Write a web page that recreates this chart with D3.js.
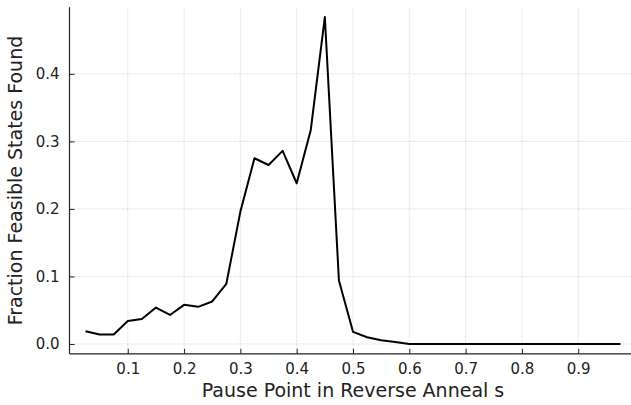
<!DOCTYPE html>
<html>
<head>
<meta charset="utf-8">
<script src="https://cdn.jsdelivr.net/npm/d3@7"></script>
<style>
  html, body { margin: 0; padding: 0; background: #fff; }
  svg { display: block; font-family: "DejaVu Sans", sans-serif; }
</style>
</head>
<body>
<svg id="chart" width="631" height="405"></svg>
<script>
// Pause points of the reverse anneal
const pausePoints = [
  0.025, 0.05, 0.075, 0.1, 0.125, 0.15, 0.175, 0.2, 0.225, 0.25,
  0.275, 0.3, 0.325, 0.35, 0.375, 0.4, 0.425, 0.45, 0.475, 0.5,
  0.525, 0.55, 0.575, 0.6, 0.625, 0.65, 0.675, 0.7, 0.725, 0.75,
  0.775, 0.8, 0.825, 0.85, 0.875, 0.9, 0.925, 0.95, 0.975
];
// Fraction of feasible states found at each pause point
const feasibleFraction = [
  0.019, 0.014, 0.014, 0.034, 0.037, 0.054, 0.043, 0.058, 0.055, 0.063,
  0.089, 0.196, 0.275, 0.265, 0.286, 0.238, 0.317, 0.484, 0.094, 0.018,
  0.010, 0.0055, 0.003, 0, 0, 0, 0, 0, 0, 0,
  0, 0, 0, 0, 0, 0, 0, 0, 0
];
const xTicks = [0.1, 0.2, 0.3, 0.4, 0.5, 0.6, 0.7, 0.8, 0.9];
const yTicks = [0.0, 0.1, 0.2, 0.3, 0.4];
const xLabel = "Pause Point in Reverse Anneal s";
const yLabel = "Fraction Feasible States Found";

const svg = d3.select("#chart");
const plotL = 69.5, plotR = 636.5, plotT = 7.3, plotB = 353.8;

// pad each axis by 3% of the data span on both ends
function padded(ext) {
  const p = (ext[1] - ext[0]) * 0.03;
  return [ext[0] - p, ext[1] + p];
}
const x = d3.scaleLinear().domain(padded(d3.extent(pausePoints))).range([plotL, plotR]);
const y = d3.scaleLinear().domain(padded(d3.extent(feasibleFraction))).range([plotB, plotT]);

// grid
const grid = svg.append("g").attr("stroke", "#000").attr("stroke-opacity", 0.1)
  .attr("stroke-width", 1).attr("stroke-dasharray", "3,1");
grid.selectAll(".gx").data(xTicks).join("line")
  .attr("x1", d => x(d)).attr("x2", d => x(d)).attr("y1", plotT).attr("y2", plotB);
grid.selectAll(".gy").data(yTicks).join("line")
  .attr("x1", plotL).attr("x2", plotR).attr("y1", d => y(d)).attr("y2", d => y(d));

// axes with inward ticks
const fmt = d3.format(".1f");
const gx = svg.append("g").attr("transform", `translate(0,${plotB})`)
  .call(d3.axisBottom(x).tickValues(xTicks).tickFormat(fmt).tickSizeInner(-5).tickSizeOuter(0).tickPadding(10));
const gy = svg.append("g").attr("transform", `translate(${plotL},0)`)
  .call(d3.axisLeft(y).tickValues(yTicks).tickFormat(fmt).tickSizeInner(-5).tickSizeOuter(0).tickPadding(10));
[gx, gy].forEach(g => {
  g.select(".domain").attr("stroke", "#222").attr("stroke-width", 1.2);
  g.selectAll(".tick line").attr("stroke", "#222").attr("stroke-width", 1);
  g.selectAll(".tick text").attr("fill", "#222").style("font-size", "15px")
    .style("font-family", "DejaVu Sans, sans-serif");
});
gy.select(".domain").attr("d", `M0,${plotT}V${plotB}`);
gx.select(".domain").attr("d", `M${plotL},0H${plotR}`);

// data line
svg.append("path")
  .datum(pausePoints.map((s, i) => [s, feasibleFraction[i]]))
  .attr("fill", "none").attr("stroke", "#000").attr("stroke-width", 2)
  .attr("stroke-linejoin", "round")
  .attr("d", d3.line().x(d => x(d[0])).y(d => y(d[1])));

// axis titles
svg.append("text").attr("x", (plotL + plotR) / 2).attr("y", 397)
  .attr("text-anchor", "middle").attr("fill", "#222").style("font-size", "19px").text(xLabel);
svg.append("text").attr("transform", `translate(22,${(plotT + plotB) / 2}) rotate(-90)`)
  .attr("text-anchor", "middle").attr("fill", "#222").style("font-size", "19px").text(yLabel);
</script>
</body>
</html>
